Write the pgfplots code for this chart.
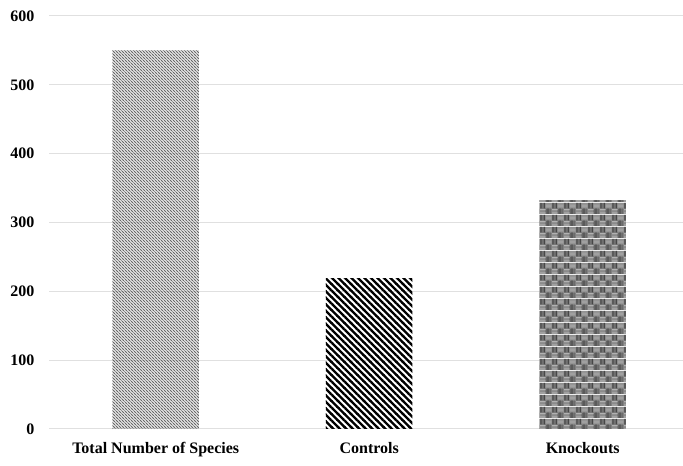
\documentclass[border=0pt]{standalone}
\usepackage{fontspec}
\setmainfont{Liberation Serif}
\usepackage{pgfplots}
\pgfplotsset{compat=1.18}
\usetikzlibrary{patterns,patterns.meta}

% fine diagonal hatch for the first bar
\tikzdeclarepattern{
  name=finehatch,
  type=colored,
  bottom left={(-.1pt,-.1pt)},
  top right={(3.1pt,3.1pt)},
  tile size={(3pt,3pt)},
  code={
    \draw[line width=0.8pt, black!60] (0,3pt) -- (3pt,0);
    \draw[line width=0.3pt, black!25] (0,0) -- (3pt,3pt);
  }
}
% bold diagonal lines for the second bar
\tikzdeclarepattern{
  name=boldhatch,
  type=colored,
  bottom left={(-.1pt,-.1pt)},
  top right={(6.6pt,6.6pt)},
  tile size={(6.5pt,6.5pt)},
  code={
    \draw[line width=2.2pt, black] (-1pt,7.5pt) -- (7.5pt,-1pt);
    \draw[line width=2.2pt, black] (-1pt,1pt) -- (1pt,-1pt);
    \draw[line width=2.2pt, black] (5.5pt,7.5pt) -- (7.5pt,5.5pt);
  }
}
% plaid grid for the third bar
\tikzdeclarepattern{
  name=plaid,
  type=colored,
  bottom left={(0pt,0pt)},
  top right={(12pt,12pt)},
  tile size={(12pt,12pt)},
  code={
    \fill[black!50] (0,0) rectangle (12pt,12pt);
    \foreach \i in {0,1.5,3,4.5}{
      \fill[black!72] (\i pt,6pt) rectangle ++(0.75pt,6pt);
      \fill[black!72] (6pt+\i pt,0) rectangle ++(0.75pt,6pt);
      \fill[black!30] (6pt,6pt+\i pt) rectangle ++(6pt,0.75pt);
      \fill[black!30] (0,\i pt) rectangle ++(6pt,0.75pt);
    }
  }
}

\begin{document}
\begin{tikzpicture}
\begin{axis}[
  scale only axis,
  width=634pt,
  height=413pt,
  ybar, bar width=86.5pt, bar shift=0pt,
  xmin=-0.5, xmax=2.47,
  ymin=0, ymax=600,
  ytick={0,100,...,600},
  xtick={0,1,2},
  xticklabels={Total Number of Species, Controls, Knockouts},
  axis line style={draw=none},
  major tick length=0pt,
  ymajorgrids,
  grid style={draw=black!12, line width=1pt},
  tick label style={font=\fontsize{16}{18}\selectfont\bfseries},
  /pgf/number format/assume math mode=true,
  yticklabel style={xshift=-11pt},
  xticklabel style={yshift=-10pt},
]
\addplot[draw=none, pattern={finehatch}] coordinates {(0,550)};
\addplot[draw=none, pattern={boldhatch}] coordinates {(1,218)};
\addplot[draw=none, pattern={plaid}] coordinates {(2,332)};
\end{axis}
\pgfresetboundingbox
\useasboundingbox ([shift={(-49pt,-37pt)}]current axis.south west) rectangle ([shift={(0pt,16pt)}]current axis.north east);
\end{tikzpicture}
\end{document}
